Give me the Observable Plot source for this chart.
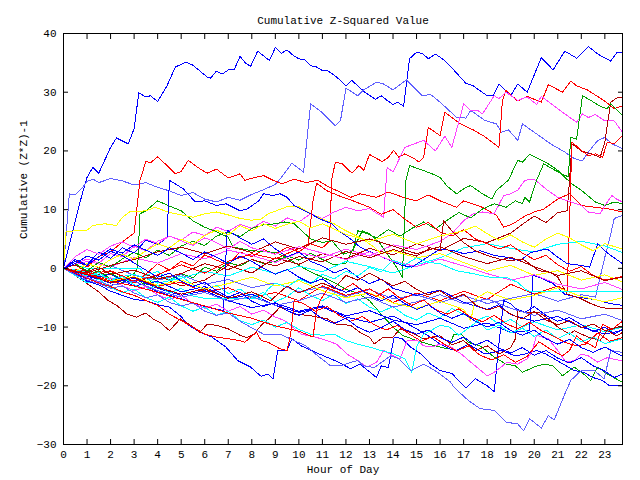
<!DOCTYPE html>
<html><head><meta charset="utf-8">
<script src="https://cdn.jsdelivr.net/npm/d3@7"></script>
<script src="https://cdn.jsdelivr.net/npm/@observablehq/plot@0.6"></script>
<style>body{margin:0;background:#fff}svg{display:block}</style>
</head><body><div id="chart"></div>
<script>
const title = "Cumulative Z-Squared Value";
const xLabel = "Hour of Day";
const yLabel = "Cumulative (Z*Z)-1";
const xTicks = [0,1,2,3,4,5,6,7,8,9,10,11,12,13,14,15,16,17,18,19,20,21,22,23];
const yTicks = [-30,-20,-10,0,10,20,30,40];

const s01 = [[0,0],[0.25,4],[0.5,8],[0.75,12],[1,15.5],[1.25,17.2],[1.5,16.2],[2,20.6],[2.25,22.2],[2.75,21.2],[3,23.8],[3.2,29.9],[3.5,29.2],[3.7,29.4],[4,28.4],[4.4,31.1],[4.75,34.3],[5.2,35.1],[5.5,34.6],[6.1,32.6],[6.25,32.4],[6.5,33.6],[6.75,33.1],[7,33.8],[7.25,33.8],[7.5,36.1],[7.75,34.9],[7.95,34.4],[8.25,37],[8.75,35.4],[9,37.6],[9.25,36.6],[9.5,37.2],[9.75,36.3],[10,35.7],[10.25,35.5],[10.5,34.5],[10.75,34.3],[11,33.7],[11.25,33.6],[11.6,32.6],[12,31.1],[12.25,32],[12.5,31.1],[12.8,30],[13.25,28.8],[13.5,29.4],[13.75,28.6],[14,27.9],[14.2,28.3],[14.45,27.6],[14.7,35.7],[15,36.8],[15.25,36.6],[15.5,35.7],[15.8,36.5],[16.2,35.4],[16.6,33.7],[17.1,31.5],[17.4,31.1],[18,29.4],[18.25,29.4],[18.5,31.4],[19,29.4],[19.3,31.4],[19.7,30],[20.3,35.9],[20.8,33.8],[21.3,37],[21.8,35.8],[22.3,37.8],[22.7,36.5],[23.25,35.3],[23.5,36.7],[23.75,36.7]];
const s02 = [[0,0],[0.25,12.7],[0.5,12.5],[0.75,13.5],[1,14.8],[1.25,15.2],[1.5,14.6],[2,15.3],[2.5,14.9],[3,14.2],[3.5,14.6],[4,13.8],[4.5,13.2],[5,12.4],[5.5,12.9],[6,11.8],[6.5,11.3],[7,12.1],[7.5,11.6],[8,12.6],[8.5,13.4],[9,14.3],[9.2,15.2],[9.7,17.9],[10.2,16.4],[10.5,28],[11,26.5],[11.55,24.3],[11.77,25.2],[12,30.7],[12.5,29.4],[12.76,30.4],[13.3,31.7],[13.6,31.4],[14,30.4],[14.57,32.1],[15.24,29.4],[15.6,29.6],[16,28.3],[16.3,27.2],[16.7,25.7],[17.1,25.6],[17.3,26.9],[17.9,25.2],[18.4,24.6],[18.6,23.2],[18.9,23.6],[19.3,21.8],[19.5,24.6],[20.1,22.9],[20.7,21.2],[21.3,19.8],[21.7,18.7],[22.05,18.3],[22.3,19.8],[22.7,21.8],[23,22.3],[23.3,21.2],[23.75,20.4]];
const s03 = [[0,0],[0.5,1.5],[1,0.2],[1.5,2],[2,2.8],[2.5,4.5],[3,6],[3.25,15],[3.5,18.2],[3.7,18],[4,19],[4.4,17.5],[4.75,16.1],[5,16.5],[5.3,18.4],[5.7,17.2],[6.1,16.2],[6.5,16.9],[7,15.4],[7.5,16.1],[7.7,15],[8.15,15.5],[8.5,15.8],[8.9,15],[9.3,14.4],[9.8,15.2],[10.3,14.6],[10.8,15],[11.3,13.8],[11.8,12.9],[12.2,12.1],[12.6,12.7],[13.3,12.1],[13.8,13],[14.5,12],[15,11.5],[15.5,12.5],[16,11.5],[16.7,10.4],[17,11.5],[17.8,10.4],[18.4,9],[18.7,7],[19.1,7.6],[19.6,8.9],[20,9.6],[20.4,10.1],[21,11.8],[21.5,12.7],[22,10.7],[22.6,10.4],[23.2,10.1],[23.75,9.6]];
const s04 = [[0,0],[0.5,-0.8],[1,-1.5],[1.5,-0.6],[2,-2.1],[2.5,-1.2],[3,-2.5],[3.5,-1],[4,0.8],[4.5,-0.3],[5,1.2],[5.5,0.4],[6,2.3],[6.5,1.4],[7,0.6],[7.5,2.8],[8,2],[8.5,3.2],[9,2.4],[9.5,3.6],[10,2.8],[10.5,4.2],[11,3.5],[11.3,4.6],[11.4,15.2],[11.55,18.1],[11.84,17.8],[12.26,16.2],[12.55,17.5],[12.76,16.7],[13,19.4],[13.26,18.8],[13.54,18.2],[13.8,18.9],[14.03,20.1],[14.25,18.9],[14.5,19.5],[14.9,18.7],[15.1,18.1],[15.3,18.9],[15.5,24],[16,22.6],[16.2,26.6],[16.87,24.6],[17.4,23.6],[17.87,22.5],[18.5,20.6],[18.65,28.6],[18.8,30.3],[19.3,28.5],[19.7,29.3],[20.3,28.3],[20.6,31.3],[21.2,30],[21.55,31.9],[21.8,31.1],[22.25,30.4],[22.96,28.6],[23.4,27.2],[23.75,27.7]];
const s05 = [[0,0],[0.5,0.8],[1,1.6],[1.5,0.9],[2,2.5],[2.5,2],[3,3.8],[3.5,3],[4,4.6],[4.5,5.5],[5,4.8],[5.5,6.2],[6,5.6],[6.5,7],[7,6.3],[7.5,7.5],[8,6.8],[8.5,8],[9,7.2],[9.5,8.6],[10,7.9],[10.5,9.3],[11,8.5],[11.5,9.6],[12,10.4],[12.5,9.8],[13,10.2],[13.3,9.4],[13.6,8.7],[13.75,17.2],[14,16.4],[14.5,20.6],[14.9,21.2],[15.3,21.8],[15.8,20],[16.2,22.5],[16.5,20.6],[17,28],[17.3,26.9],[17.6,26.9],[17.8,26.3],[18.3,29.4],[18.5,28.9],[18.8,30],[19.3,28.6],[19.7,29.2],[20.1,27.9],[20.3,29.3],[20.9,27.5],[21.3,26.3],[21.8,24.9],[22.05,26.3],[22.3,25.7],[22.6,26.2],[23,25.1],[23.4,25.1],[23.75,23.2]];
const s06 = [[0,0],[0.5,-0.7],[1,-1.2],[1.5,-0.4],[2,-1.8],[2.5,-2.4],[3,-1.6],[3.5,-2.9],[4,-1.2],[4.5,-2],[5,-0.9],[5.5,-1.6],[6,0.2],[6.5,-0.5],[7,1],[7.5,0.4],[8,1.5],[8.5,0.8],[9,1.2],[9.5,2.1],[10,1.4],[10.5,2.6],[11,1.5],[11.5,0.6],[12,0.9],[12.4,4],[12.7,6.4],[13,5.9],[13.4,4.5],[13.8,2.2],[14.1,0.5],[14.4,-1.5],[14.55,15],[14.7,17.5],[15.2,16.8],[15.6,16.2],[16,15.5],[16.3,14],[16.7,12.7],[17.1,13.8],[17.3,14.1],[17.8,12.7],[18.2,11.8],[18.4,13.3],[18.9,15],[19.3,18.4],[19.5,18.1],[19.8,19.4],[20.3,18.4],[20.6,17.8],[21,16.7],[21.3,15.5],[21.6,14.4],[22,13.3],[22.6,11.3],[23,10.7],[23.4,11.3],[23.75,11]];
const s07 = [[0,0],[0.5,-0.9],[1,-0.3],[1.5,-1.5],[2,-0.8],[2.5,-1.9],[3,-0.9],[3.15,0],[3.25,9.3],[3.5,9.8],[4,11.5],[4.5,10.6],[5,9.8],[5.5,8.1],[6,7],[6.4,6.4],[7,5.3],[7.2,3.6],[7.5,3.4],[8,3],[8.5,2.9],[9,2.7],[9.5,1.8],[10,0.5],[10.5,-0.6],[11,-1.5],[11.5,-2.4],[12,-3.6],[12.5,-4.2],[13,-5.5],[13.5,-7.8],[14,-10],[14.4,-11.4],[15,-12.3],[15.5,-12.9],[16,-13.4],[16.3,-13.7],[16.6,-11.2],[16.9,-11.2],[17.2,-12.6],[17.7,-13.2],[18.3,-15.1],[18.8,-16.3],[19.2,-16.6],[19.5,-17.7],[20,-16.8],[20.4,-16.3],[20.8,-16.6],[21.2,-18.3],[21.7,-16.8],[22.1,-18],[22.4,-19.1],[22.7,-16.8],[23.1,-18],[23.75,-19.4]];
const s08 = [[0,0],[1,-0.8],[2,0.5],[3,-1.2],[4,-2],[5,-1.1],[6,-2.7],[7,-1.9],[8,-3.3],[9,-2.5],[10,-4],[11,-3.2],[12,-4.8],[13,-3.6],[14,-5.2],[15,-4.5],[16,-5.8],[17,-4.6],[18,-6],[19,-5.1],[20,-4.3],[21,-5.6],[22,-4.5],[22.6,-4.9],[23,1.9],[23.2,5],[23.4,8.5],[23.75,9]];
const s09 = [[0,0],[1,-1.5],[2,-0.5],[3,-2.3],[4,-1.2],[5,-3],[6,-2],[7,0.5],[8,-0.8],[9,1.8],[10,0.7],[11,2.5],[12,1.6],[13,3.4],[14,2.3],[15,4.2],[16,3],[17,5.1],[18,4.4],[19,6],[19.5,7.5],[20,8.9],[20.5,7.8],[21,9.5],[21.4,9.8],[21.5,15],[21.6,21.2],[22,20],[22.5,19.4],[22.8,18.9],[23,21.5],[23.1,24.3],[23.25,28.3],[23.5,29],[23.75,29.2]];
const s10 = [[0,0],[1,-0.5],[2,-2],[3,-1.5],[4,-3],[5,-2.4],[6,-4],[7,-3.3],[8,-5],[9,-4.1],[10,-5.5],[11,-3],[12,-4.6],[13,-3.5],[14,-5.8],[15,-4.2],[16,-5.5],[17,-3.9],[18,-5.3],[19,-2.7],[20,-4.4],[21,-3],[21.4,-4],[21.5,8],[21.6,21.5],[22,20.1],[22.3,19.2],[22.6,19.5],[22.9,18.9],[23.1,21.5],[23.4,21.2],[23.75,22.6]];
const s11 = [[0,0],[1,1.2],[2,0.3],[3,1.8],[4,0.9],[5,2.5],[6,1.6],[7,3.1],[8,2.2],[9,1],[10,2.7],[11,1.8],[12,3.3],[13,2.1],[14,4],[15,3.2],[16,4.6],[16.5,5.9],[17,8.1],[17.4,9.3],[17.8,9.6],[18.3,9.3],[18.7,12.4],[19,12.7],[19.3,13.3],[19.6,15],[20,15.2],[20.5,13.5],[21,12.1],[21.4,11.5],[22,10.7],[22.3,9.6],[22.8,9.3],[23,10.7],[23.3,12.4],[23.5,11.8],[23.75,11.3]];
const s12 = [[0,0],[1,-0.6],[2,-1.8],[3,-1],[4,-2.5],[5,-1.7],[6,-0.5],[7,-1.3],[8,0.2],[9,-0.9],[10,0.4],[11,-0.6],[12,1.2],[13,0.3],[14,-0.8],[15,0.6],[16,1.8],[17,3.5],[18,4.2],[19,3.4],[20,2.8],[21,4.1],[22,4.6],[23,3.8],[23.75,2.7]];
const s13 = [[0,0],[0.5,0.6],[1,0],[3.25,0],[3.5,-1.2],[4,-0.5],[4.5,-2],[5,-1.3],[5.5,-2.8],[6,-3.6],[6.5,-2.9],[7,-4.3],[7.5,-3.5],[8,-5],[8.5,-4.1],[9,-5.7],[9.5,-4.8],[10,-3.3],[10.5,-4.6],[11,-5.5],[11.5,-4.3],[12,-6],[12.5,-5.2],[13,-6.6],[13.5,-7.4],[14,-6.5],[14.5,-8],[15,-8.8],[15.5,-7.6],[16,-8.4],[16.5,-6.8],[17,-7.8],[17.5,-9],[18,-8.1],[18.5,-9.5],[19,-8.7],[19.5,-10],[20,-9.1],[21,-10.5],[22,-9.6],[23,-10.8],[23.75,-10]];
const s14 = [[0,0],[0.5,0.8],[1,-0.4],[1.5,1],[2,0.2],[2.5,1.6],[3,2.7],[3.5,1.8],[4,3.1],[4.5,2.2],[5,3.8],[5.5,4.6],[6,3.9],[6.5,5.5],[7,6.2],[7.5,5.4],[8,6.8],[8.5,7.4],[9,7.6],[9.4,7.9],[9.8,7.6],[10.5,5],[11,4.4],[11.4,4.7],[11.9,2.4],[12.3,3],[12.5,6.4],[12.9,5.9],[13.3,5.2],[13.8,6.6],[14.3,5.5],[14.8,6.8],[15.3,7.9],[15.8,6.7],[16.3,8.2],[16.8,9.5],[17.3,8.6],[17.8,10.1],[18.3,11],[18.8,10.4],[19.2,11.5],[19.5,11],[19.6,12.1],[19.8,11.3],[20.1,15],[20.4,17.8],[20.8,16.9],[21.2,16],[21.45,15.6],[21.55,22.3],[21.8,22],[22.05,29.4],[22.4,28.6],[22.8,27.6],[23.1,27.2],[23.25,28],[23.75,26]];
const s15 = [[0,0],[0.1,6.2],[0.5,6.4],[1,6.5],[1.25,7.3],[1.75,7.6],[2.25,7.3],[2.5,8.7],[2.8,9.6],[3.5,9.8],[3.9,10.4],[4.5,9.5],[5.5,8.7],[6,9.3],[6.5,9.6],[7,9.1],[7.5,8.5],[8,8.2],[8.4,8.4],[8.7,9.3],[9.5,10.5],[10,10.5],[10.5,9.3],[11,8.4],[11.5,7.6],[12,6.4],[12.7,5],[13.2,3.6],[13.5,2.5],[14,3],[15,1.8],[16,2.5],[17,1],[18,-0.5],[19,0.5],[20,-1.2],[21,-0.4],[22,-2],[23,-1.1],[23.75,-2.3]];
const s16 = [[0,0],[0.5,1.5],[1,0.6],[1.5,2.8],[2,1.7],[2.5,3.5],[3,2.6],[3.5,4.8],[4,4.1],[4.4,5.2],[4.5,15],[4.75,14.4],[5.1,13.5],[5.6,11.3],[6,11.5],[6.5,10.7],[6.9,11],[7.5,9.8],[7.8,10.1],[8.3,11.5],[8.5,12.7],[8.9,12.4],[9.2,12.7],[9.5,12.1],[9.8,10.7],[10.1,10.1],[10.5,9.3],[10.9,8.4],[11.4,7.6],[11.7,6.4],[12.3,4.7],[12.6,3.6],[12.9,3],[13.1,2.7],[13.9,1.3],[14.4,0.5],[14.8,0.2],[15.5,2],[16,3.3],[16.6,3],[17,2.5],[17.7,3],[18.3,2.2],[18.8,1.9],[19.4,1.3],[19.85,2.7],[20.55,3.3],[21,1.9],[21.4,0.8],[22,0.5],[22.35,0.2],[22.7,4.2],[23,3],[23.25,2.2],[23.75,0.8]];
const s17 = [[0,0],[0.5,-1],[1,-2.2],[1.5,-2.8],[2,-3.9],[2.5,-4.6],[3,-5.3],[3.5,-5.5],[4,-6.2],[4.5,-6.6],[5,-8.2],[5.25,-9.5],[5.8,-10.9],[6.3,-11.7],[6.9,-13.4],[7.4,-15.7],[7.94,-16.8],[8.4,-18.4],[8.7,-18],[8.9,-18.8],[9.1,-14],[9.5,-14],[9.7,-12],[10.1,-13.2],[10.7,-14.3],[11.7,-16],[12.2,-17.1],[12.6,-16.3],[13.3,-18.6],[13.5,-16.6],[13.8,-16.9],[14.05,-11.7],[14.4,-12],[14.75,-13.4],[15.2,-14.6],[15.6,-16.3],[16,-17.4],[16.5,-17.9],[17.1,-20.4],[17.5,-18.8],[18,-20],[18.3,-21],[18.5,-12.9],[18.7,-5.5],[19,-6],[19.2,-6.8],[19.6,-7.5],[20,-6.5],[20.5,-8],[21,-9],[21.5,-8.4],[22,-9.6],[22.5,-10.8],[23,-10],[23.4,-11.2],[23.75,-10.3]];
const s18 = [[0,0],[1,-1.8],[2,-1],[3,-3],[4,-2.2],[5,-4],[6,-3.1],[7,-5.2],[8,-4.4],[9,-6.3],[10,-7.5],[11,-6.6],[12,-8.3],[13,-9.2],[14,-8.1],[15,-10.3],[15.5,-11.5],[16,-12.9],[16.4,-13.7],[16.7,-14],[17.2,-12.9],[17.9,-14.6],[18.6,-14],[19.2,-14.9],[19.6,-14.6],[20.1,-14],[20.5,-14.6],[21.1,-16],[21.7,-17.4],[22.1,-17.7],[22.5,-18.6],[22.9,-19.1],[23.2,-20],[23.75,-20]];
const s19 = [[0,0],[1,-1.3],[2,-2.5],[3,-1.7],[4,-3.4],[5,-4.6],[6,-3.8],[7,-5.5],[8,-6.7],[9,-5.9],[10,-7.3],[11,-6.4],[12,-8.1],[13,-7.2],[14,-8.8],[15,-9.6],[16,-8.5],[17,-10.2],[18,-9.3],[19,-10.9],[19.8,-10.6],[19.95,-1.2],[20.2,-1.5],[20.8,-2.6],[21.3,-4.4],[21.8,-4.9],[22.4,-5.2],[22.8,-5.5],[23.2,-6],[23.75,-6.3]];
const s20 = [[0,0],[1,-1.7],[2,-2.9],[3,-2.1],[4,-4],[5,-5.2],[6,-6.5],[6.8,-7.2],[6.95,6.5],[7.5,5.2],[8,4.1],[8.5,5],[9,3.3],[9.5,2],[10,2.8],[10.5,1.2],[11,0.4],[11.5,-0.8],[12,0],[12.5,-1.5],[13,-2.6],[13.5,-1.8],[14,-3.4],[15,-4.6],[16,-3.7],[17,-5.8],[18,-7],[18.5,-6.2],[19,-7.9],[20,-9],[21,-8.2],[22,-10],[23,-11.2],[23.75,-10.6]];
const s21 = [[0,0],[1,-1],[2,-0.4],[3,-2.2],[4,-1.1],[5,0.6],[6,-0.8],[7,1.2],[8,2.5],[9,1.6],[10,3.4],[10.4,4.2],[10.6,11.5],[10.75,14.5],[11.2,13.2],[11.8,12.2],[12.3,11.5],[13,10.4],[13.5,9.2],[14,10],[14.5,8.4],[15,7],[15.5,7.8],[16,6.2],[16.5,5.5],[17,6.6],[17.5,5],[18,4.2],[18.5,3.3],[19,4],[19.5,2.6],[20,1.5],[20.5,2.2],[21,0.6],[21.5,-0.5],[22,0.3],[22.5,-1.2],[23,-2],[23.75,-1.4]];
const s22 = [[0,0],[0.5,-1.2],[1,-2.6],[1.5,-4],[1.9,-5.5],[2.26,-6.3],[2.7,-7.8],[3.1,-8.3],[3.5,-7.6],[3.8,-8.6],[4.1,-9.2],[4.5,-10.6],[4.96,-8.6],[5.4,-9.7],[5.8,-10.9],[6.1,-9.5],[6.5,-9.7],[7,-10.3],[7.5,-11.4],[7.8,-11.8],[8.1,-11.2],[8.4,-9.7],[8.8,-8.3],[9.2,-6.6],[9.8,-7.8],[10.4,-8],[11.2,-8.6],[11.6,-9.5],[12.2,-9.7],[12.6,-10.9],[13,-11.7],[13.2,-12.9],[13.6,-11.7],[14,-11.7],[14.3,-10.3],[14.8,-11],[15.3,-12],[16,-11.5],[16.5,-13],[17,-12.3],[17.5,-14],[18,-13.2],[18.5,-14.6],[19,-13.5],[19.2,-12],[19.3,-7.2],[19.6,-7.5],[20.2,-7.5],[20.5,-8.3],[21,-10],[21.5,-11.2],[21.7,-10.6],[22,-11.2],[22.3,-11.7],[22.8,-12.3],[23.1,-10.6],[23.5,-11.5],[23.75,-10.9]];
const s23 = [[0,0],[0.5,0.6],[1,-0.6],[1.5,0.2],[2,-1],[3,-0.3],[4,-1.8],[5,-0.9],[6,0.8],[7,-0.2],[8,1.5],[9,0.4],[10,2],[11,1.1],[12,2.9],[13,1.8],[14,3.2],[15,2.1],[15.6,3.5],[16,3],[16.15,8.1],[16.5,6.4],[17,4.4],[17.5,3],[18,2.2],[18.5,1.6],[19,1.3],[19.5,1.6],[19.8,0.8],[20.2,-0.4],[20.7,-0.7],[21,-1.5],[21.4,-4.4],[22,-5.2],[22.4,-6],[22.8,-6.6],[23.2,-6.9],[23.75,-6.9]];
const s24 = [[0,0],[1,-0.8],[2,0.5],[3,1.5],[4,2.8],[5,3.6],[6,2.5],[7,3.8],[8,2.7],[9,4.5],[10,3.3],[11,5.2],[12,4.1],[13,5],[14,3.8],[15,2.5],[16,3.7],[17,2],[18,0.8],[19,1.9],[20,0.3],[21,-1.2],[22,-0.4],[23,-2.1],[23.75,-1.5]];
const s25 = [[0,0],[0.5,-0.8],[1,-1.5],[1.5,-2.4],[2,-1.6],[2.5,-3],[3,-3.8],[3.5,-3.1],[4,-4.5],[4.5,-5.3],[5,-4.6],[5.5,-6],[6,-6.8],[6.5,-6.1],[7,-7.3],[7.5,-6.5],[8,-7.8],[8.5,-7.1],[9,-8.3],[9.4,-8.9],[10.1,-11.2],[10.7,-11.7],[11.2,-12.3],[11.6,-12.9],[12.05,-14.6],[12.5,-15.7],[12.9,-16.8],[13.3,-16],[13.6,-14],[14,-14.9],[14.3,-15.4],[14.6,-12.3],[15,-12.2],[15.3,-13.2],[15.65,-13.4],[16,-12.9],[16.4,-13.2],[16.9,-14.6],[17.4,-16.3],[18,-18.3],[18.3,-17.7],[18.85,-16],[19.3,-16.3],[19.7,-15.4],[19.9,-14.3],[20.1,-11.4],[20.6,-12],[21,-14],[21.35,-16],[21.7,-15.7],[22,-14.6],[22.3,-14.9],[22.7,-16],[23.1,-15.2],[23.75,-15.8]];
const s26 = [[0,0],[0.5,2],[1,3.2],[1.5,2.4],[2,3.8],[2.5,4.5],[3,3.6],[3.5,5],[4,4.2],[4.5,5.5],[5,4.7],[5.5,3.9],[6,5.2],[6.5,4.4],[7,3.3],[7.5,4.6],[8,3.5],[9,2.4],[10,3.7],[11,2.6],[12,1.5],[13,2.8],[14,1.2],[15,0.3],[16,1.6],[17,0.4],[18,-0.9],[19,-2],[20,-1.1],[21,-2.7],[22,-3.5],[23,-2.4],[23.75,-3.6]];
const s27 = [[0,0],[1,-1],[2,-2.2],[3,-1.4],[4,-2.9],[5,-2],[6,-3.5],[7,-2.6],[8,-1.5],[9,-3],[10,-2.1],[11,-3.8],[12,-5],[13,-4.2],[14,-5.9],[15,-6.8],[16,-5.6],[17,-7],[17.3,-8.9],[17.5,-5.2],[18,-4],[19,-5.4],[20,-4.6],[21,-3.3],[22,-4.8],[23,-5.7],[23.75,-5]];
const s28 = [[0,0],[0.5,-0.5],[1,0.8],[1.5,0.2],[2,1.5],[2.5,2.4],[3,1.6],[3.5,3],[4,4.2],[4.5,3.5],[5,5],[5.5,4.1],[6,5.6],[6.5,6.5],[7,5.7],[7.5,7.3],[8,6.4],[8.5,7.6],[9,6.8],[9.5,7.5],[10,8],[10.5,6.9],[11,7.6],[12,5.8],[13,4.6],[14,5.8],[15,4.2],[16,5.5],[17,6.4],[17.5,7.2],[18,5.9],[18.5,4.8],[19,5.7],[19.5,4.5],[20,3.6],[20.5,5],[21,6],[21.5,5.2],[22,4],[22.5,3],[23,4.2],[23.75,3.3]];
const s29 = [[0,0],[0.5,-1.2],[1,-2.5],[1.5,-1.8],[2,-3.3],[2.5,-4.1],[3,-3.5],[3.5,-5],[4,-5.8],[4.5,-4.9],[5,-6.4],[5.5,-7.3],[6,-6.6],[6.5,-8],[7,-7.3],[7.5,-8.9],[8,-9.6],[8.5,-8.8],[9,-10],[9.5,-9.2],[10,-10.4],[10.5,-11.2],[11,-11.4],[11.5,-11.2],[12,-12.3],[12.5,-12.9],[13,-13.4],[13.5,-14],[14,-14.5],[14.5,-15.4],[14.8,-17.7],[15,-13.4],[15.3,-11.2],[15.6,-10.6],[16,-9.7],[16.4,-10],[16.8,-11.4],[17.2,-10.2],[17.6,-9],[18,-10.5],[18.5,-9.7],[19,-11],[19.5,-10.2],[20,-11.6],[20.5,-10.5],[21,-12],[21.5,-11],[22,-12.5],[22.5,-11.7],[23,-12.8],[23.75,-12]];
const s30 = [[0,0],[0.5,-0.5],[1,-1.3],[1.5,-0.7],[2,-2.1],[2.5,-1.4],[3,-2.8],[3.5,-3.6],[4,-2.9],[4.5,-4.2],[5,-3.4],[5.5,-4.7],[6,-5.1],[6.2,-5.1],[8.4,-5.1],[8.7,-3.5],[9,-2.5],[9.5,-3.2],[10,-1.8],[10.5,-2.6],[11,-1],[11.5,-1.8],[12,-0.5],[12.5,-1.3],[13,0.2],[13.5,-0.6],[14,1.4],[14.5,0.6],[15,1.8],[15.5,1],[16,0.8],[16.7,-0.4],[17.4,-0.9],[18.1,-1.5],[18.8,-1.5],[19.3,-2.4],[19.7,-3.8],[20,-4],[23.75,-4]];
const s31 = [[0,0],[1,-1.6],[2,-2.9],[3,-2.2],[4,-3.8],[5,-4.9],[6,-4.1],[7,-5.6],[8,-4.8],[9,-6.3],[10,-5.5],[11,-4.2],[12,-5.8],[13,-4.9],[14,-6.6],[15,-5.7],[16,-4.5],[17,-6],[18,-5.2],[19,-6.8],[20,-8],[21,-7.1],[22,-8.6],[23,-7.8],[23.75,-8.9]];
const s32 = [[0,0],[0.5,-1.1],[1,-2],[1.5,-2.6],[2,-3.4],[2.5,-3],[3,-4.2],[3.5,-5],[4,-4.5],[4.5,-5.8],[5,-6.4],[5.5,-5.9],[6,-7.3],[6.5,-8],[7,-7.6],[7.5,-9],[7.94,-10],[8.5,-11.2],[9.2,-11.2],[9.8,-12.3],[10.3,-13.2],[10.8,-14.9],[11.35,-16.6],[11.8,-16.6],[12.2,-16],[12.5,-15.7],[12.75,-16.6],[13.2,-16.9],[13.9,-14.9],[14.25,-15.4],[14.75,-17.4],[15.3,-16.3],[15.9,-17.7],[16.45,-19.4],[16.6,-20.3],[17.2,-22.5],[17.7,-23.9],[18.3,-24.2],[18.8,-26.2],[19.3,-26.5],[19.55,-27.7],[19.8,-25.6],[20.3,-27.2],[20.6,-25.1],[20.85,-25.8],[21.3,-21.4],[21.55,-19.1],[22,-17.4],[22.55,-17.4],[22.97,-18.8],[23.25,-14],[23.75,-14.3]];
const s33 = [[0,0],[0.5,-0.8],[1,-1.7],[1.5,-2.5],[2,-3.1],[2.5,-4],[3,-4.6],[3.5,-5.5],[4,-6.3],[4.5,-7.8],[5,-8.9],[5.5,-10],[6,-11.2],[6.5,-11.7],[7,-12],[7.5,-12.3],[7.7,-12.6],[7.95,-11.7],[8.2,-10.9],[8.4,-12.3],[8.7,-12.6],[9.2,-13.7],[9.5,-14],[9.65,-11.2],[9.75,-7.8],[9.8,-5.5],[10.2,-6],[10.7,-7.3],[11.2,-6.5],[11.7,-8],[12.2,-9],[12.7,-8.2],[13.2,-9.6],[13.7,-10.5],[14.2,-9.7],[14.7,-11.2],[15.2,-12.4],[15.7,-11.6],[16.2,-13],[16.7,-14.1],[17.2,-13.2],[17.7,-14.8],[18.2,-15.6],[18.7,-14.7],[19.2,-16],[19.7,-15],[20.2,-12.5],[20.7,-13.8],[21.2,-14.9],[21.5,-14],[21.8,-11.5],[22.2,-12.8],[22.7,-11],[23.2,-12.4],[23.75,-11.8]];
const s34 = [[0,0],[1,-0.9],[2,-2.2],[3,-3],[4,-4.1],[5,-5.3],[6,-6.4],[7,-7.6],[8,-8.5],[9,-9.8],[10,-10.7],[10.6,-11.7],[10.75,-7.2],[10.9,-5.5],[11.3,-3],[11.8,-3.8],[12.3,-2.6],[12.8,-4],[13.3,-4.8],[13.8,-3.5],[14.3,-5.1],[14.8,-6.3],[15.3,-5.4],[15.8,-7],[16.3,-7.8],[16.8,-6.9],[17.3,-8.3],[17.8,-9.1],[18.3,-8],[18.8,-9.4],[19.3,-10.3],[19.8,-9.2],[20.3,-10.6],[20.8,-11.5],[21.3,-12.6],[21.8,-13.2],[22.3,-12.8],[22.6,-13.5],[22.9,-9.5],[23.3,-10.4],[23.75,-9]];
const s35 = [[0,0],[1,-1.1],[2,-2.4],[3,-1.5],[4,-3.2],[5,-4.4],[6,-3.5],[7,-5.1],[8,-4],[8.8,-5.5],[9.5,-3],[10,-4.2],[11,-2.5],[11.5,-3.4],[12,-1.2],[12.5,-2],[13,-0.8],[13.5,-1.9],[14,-3],[14.5,-2.2],[15,-3.6],[15.5,-4.5],[16,-3.8],[16.5,-5.2],[17,-4.4],[17.5,-6.2],[18,-7.1],[18.5,-6.5],[19,-7.8],[19.5,-8.6],[20,-7.3],[20.5,-8.8],[21,-9.6],[21.5,-8.9],[22,-10.1],[22.5,-9.5],[23,-10.6],[23.75,-9.8]];
const s36 = [[0,0],[0.5,0.8],[1,2.1],[1.5,1.4],[2,2.9],[2.5,2.2],[3,0.9],[3.5,-0.3],[4,-1.5],[4.5,-0.8],[5,-2.2],[5.5,-3.1],[6,-2.4],[6.5,-3.8],[7,-4.9],[7.5,-4.1],[8,-5.6],[8.5,-6.5],[9,-5.8],[9.5,-7.2],[10,-8],[10.5,-7.1],[11,-8.6],[11.5,-9.4],[12,-8.5],[12.5,-10],[13,-10.9],[13.5,-10.1],[14,-9],[14.5,-10.4],[15,-11.2],[15.5,-10.5],[16,-11.8],[16.5,-12.6],[17,-11.7],[17.5,-13.1],[18,-12.2],[18.5,-13.6],[19,-14.4],[19.5,-13.5],[20,-14.8],[20.5,-14],[21,-15.3],[21.5,-16.1],[22,-15.2],[22.5,-16.6],[23,-17.5],[23.4,-18.6],[23.75,-18]];
const s37 = [[0,0],[0.5,1.2],[1,0.5],[1.5,2],[2,3.3],[2.5,2.6],[3,4],[3.5,3.1],[4,2.2],[4.5,3.5],[5,2.6],[5.5,1.5],[6,2.8],[6.5,1.9],[7,0.8],[7.5,2.1],[8,1.2],[8.5,0],[9,-1],[9.5,-0.2],[10,-1.5],[10.5,-2.5],[11,-1.8],[11.5,-3.2],[12,-4.1],[12.5,-3.3],[13,-4.6],[13.5,-5.5],[14,-4.6],[14.5,-6],[15,-7],[15.5,-6.2],[16,-7.6],[16.5,-8.5],[17,-7.7],[17.5,-9],[18,-10],[18.5,-9.2],[19,-10.6],[19.5,-11.4],[20,-10.5],[20.5,-12],[21,-12.9],[21.5,-12.1],[22,-13.5],[22.5,-14.3],[23,-13.4],[23.75,-15]];

const seriesList = [s01,s02,s03,s04,s05,s06,s07,s08,s09,s10,s11,s12,s13,s14,s15,s16,s17,s18,s19,s20,s21,s22,s23,s24,s25,s26,s27,s28,s29,s30,s31,s32,s33,s34,s35,s36,s37];
const seriesColors = ["#0000ff","#6060ff","#ff0000","#ff0000","#ff40ff","#00a000","#00a000","#6060ff","#b00000","#ff0000","#ff40ff","#00ffff","#00ffff","#00a000","#ffff00","#0000ff","#0000ff","#0000ff","#0000ff","#0000ff","#ff0000","#b00000","#b00000","#b00000","#ff40ff","#ff40ff","#ffff00","#ffff00","#00ffff","#00ffff","#6060ff","#6060ff","#ff0000","#ff0000","#b00000","#0000ff","#0000ff"];

const rows = seriesList.flatMap((s, i) => s.map(([hour, value]) => ({hour, value, id: i, color: seriesColors[i]})));

const chart = Plot.plot({
  width: 640, height: 480,
  marginLeft: 63, marginRight: 18, marginTop: 33, marginBottom: 36,
  style: {fontFamily: "'Liberation Mono', 'DejaVu Sans Mono', monospace", fontSize: "11px", background: "#fff", color: "#000"},
  x: {domain: [0, 23.75]},
  y: {domain: [-30, 40]},
  color: {type: "identity"},
  marks: [
    Plot.line(rows, {x: "hour", y: "value", z: "id", stroke: "color", strokeWidth: 1, shapeRendering: "crispEdges"}),
    Plot.frame({stroke: "#000"}),
    Plot.axisX(xTicks, {anchor: "bottom", tickSize: -5, tickFormat: () => "", label: null}),
    Plot.axisX(xTicks, {anchor: "top", tickSize: -5, tickFormat: () => "", label: null}),
    Plot.axisY(yTicks, {anchor: "left", tickSize: -5, tickFormat: () => "", label: null}),
    Plot.axisY(yTicks, {anchor: "right", tickSize: -5, tickFormat: () => "", label: null}),
    Plot.axisX(xTicks, {anchor: "bottom", tickSize: 0, tickPadding: 6, fontSize: 11, label: null}),
    Plot.axisY(yTicks, {anchor: "left", tickSize: 0, tickPadding: 7, fontSize: 11, label: null}),
    Plot.text([title], {frameAnchor: "top", dy: -17, fontSize: 11}),
    Plot.text([xLabel], {frameAnchor: "bottom", dy: 28, fontSize: 11}),
    Plot.text([yLabel], {frameAnchor: "left", dx: -40, rotate: -90, fontSize: 11})
  ]
});
document.getElementById("chart").appendChild(chart);
</script>
</body></html>
